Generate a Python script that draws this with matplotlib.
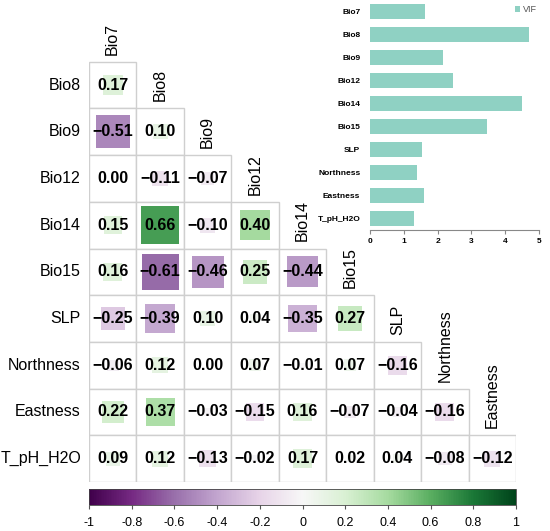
import numpy as np
import matplotlib
matplotlib.use("Agg")
import matplotlib.pyplot as plt
from matplotlib.patches import Rectangle
from matplotlib.colors import Normalize

plt.rcParams['font.family'] = ['Liberation Sans', 'DejaVu Sans']

# correlation matrix, lower triangle
col_names = ["Bio7", "Bio8", "Bio9", "Bio12", "Bio14", "Bio15", "SLP", "Northness", "Eastness"]
row_names = ["Bio8", "Bio9", "Bio12", "Bio14", "Bio15", "SLP", "Northness", "Eastness", "T_pH_H2O"]
corr = [
    [0.17],
    [-0.51, 0.10],
    [0.00, -0.11, -0.07],
    [0.15, 0.66, -0.10, 0.40],
    [0.16, -0.61, -0.46, 0.25, -0.44],
    [-0.25, -0.39, 0.10, 0.04, -0.35, 0.27],
    [-0.06, 0.12, 0.00, 0.07, -0.01, 0.07, -0.16],
    [0.22, 0.37, -0.03, -0.15, 0.16, -0.07, -0.04, -0.16],
    [0.09, 0.12, -0.13, -0.02, 0.17, 0.02, 0.04, -0.08, -0.12],
]

# VIF values
vif_names = ["Bio7", "Bio8", "Bio9", "Bio12", "Bio14", "Bio15", "SLP", "Northness", "Eastness", "T_pH_H2O"]
vif_vals = [1.62, 4.69, 2.17, 2.46, 4.50, 3.47, 1.55, 1.40, 1.61, 1.29]

cbar_ticks = [-1, -0.8, -0.6, -0.4, -0.2, 0, 0.2, 0.4, 0.6, 0.8, 1]

W, H = 550, 531
fig = plt.figure(figsize=(W/100, H/100), dpi=100)
cmap = plt.get_cmap("PRGn")
norm = Normalize(-1, 1)

# main correlation grid
ax = fig.add_axes([89/W, (H-482)/H, 427/W, 467/H])
ax.set_xlim(0, 9)
ax.set_ylim(9, -1)
ax.axis("off")

for i, row in enumerate(corr):
    for j, r in enumerate(row):
        ax.add_patch(Rectangle((j, i), 1, 1, fc="white", ec="#cfcfcf", lw=1.0, zorder=1))
        s = np.sqrt(abs(r))
        if s > 0:
            ax.add_patch(Rectangle((j + 0.5 - s/2, i + 0.5 - s/2), s, s,
                                   fc=cmap(norm(r)), ec="none", zorder=2))
        txt = "{:.2f}".format(r).replace("-", "\u2212")
        ax.text(j + 0.5, i + 0.5, txt, ha="center", va="center",
                fontsize=11.5, fontweight="bold", color="black", zorder=3)

for i, name in enumerate(row_names):
    ax.text(-0.17, i + 0.5, name, ha="right", va="center", fontsize=11.5)

for j, name in enumerate(col_names):
    ax.text(j + 0.5, j - 0.15, name, ha="center", va="bottom", rotation=90, fontsize=11.5)

# colorbar
cax = fig.add_axes([89/W, (H-505)/H, 427/W, 16/H])
sm = plt.cm.ScalarMappable(cmap=cmap, norm=norm)
cb = fig.colorbar(sm, cax=cax, orientation="horizontal", ticks=cbar_ticks)
cb.ax.set_xticklabels([("%g" % t) for t in cbar_ticks])
cb.ax.tick_params(labelsize=9, length=3, color="#555555", pad=6)
cb.outline.set_linewidth(0.6)
cb.outline.set_edgecolor("#444444")

# VIF inset
iax = fig.add_axes([370/W, (H-230)/H, 169/W, 230/H])
ypos = np.arange(len(vif_names))
iax.barh(ypos, vif_vals, height=0.62, color="#8fd1c3", label="VIF")
iax.set_ylim(9.5, -0.5)
iax.set_xlim(0, 5)
iax.set_yticks(ypos)
iax.set_yticklabels(vif_names, fontsize=6, fontweight="bold")
iax.set_xticks([0, 1, 2, 3, 4, 5])
iax.set_xticklabels(["0", "1", "2", "3", "4", "5"], fontsize=6, fontweight="bold")
iax.tick_params(axis="y", length=0, pad=7)
iax.tick_params(axis="x", length=3, color="#888888", pad=3)
for sp in ["top", "right", "left"]:
    iax.spines[sp].set_visible(False)
iax.spines["bottom"].set_color("#888888")
iax.spines["bottom"].set_linewidth(0.8)
iax.patch.set_alpha(0)
iax.legend(loc="upper right", bbox_to_anchor=(1.02, 1.0), frameon=False, fontsize=6.5,
           handlelength=0.6, handleheight=0.6, handletextpad=0.3, borderaxespad=0.2,
           labelcolor="#555555")

fig.savefig("out.png", dpi=100)
